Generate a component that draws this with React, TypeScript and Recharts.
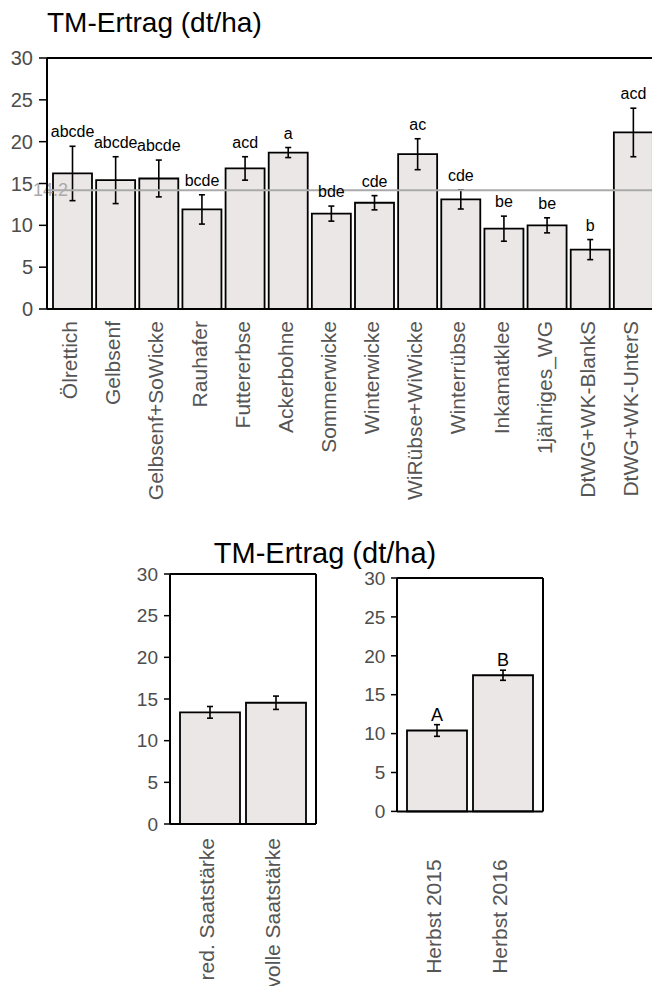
import React from "react";
import {
  ComposedChart,
  Bar,
  Line,
  XAxis,
  YAxis,
  ErrorBar,
  ReferenceLine,
  LabelList,
} from "recharts";

// upper panel: catch crops
const crops = [
  "Ölrettich",
  "Gelbsenf",
  "Gelbsenf+SoWicke",
  "Rauhafer",
  "Futtererbse",
  "Ackerbohne",
  "Sommerwicke",
  "Winterwicke",
  "WiRübse+WiWicke",
  "Winterrübse",
  "Inkamatklee",
  "1jähriges_WG",
  "DtWG+WK-BlankS",
  "DtWG+WK-UnterS",
];
const cropYield = [16.2, 15.4, 15.6, 11.9, 16.8, 18.7, 11.4, 12.7, 18.5, 13.1, 9.6, 10.0, 7.1, 21.1];
const cropErr = [3.25, 2.8, 2.2, 1.75, 1.4, 0.6, 0.9, 0.85, 1.85, 1.15, 1.5, 0.9, 1.2, 2.9];
const cropLetters = ["abcde", "abcde", "abcde", "bcde", "acd", "a", "bde", "cde", "ac", "cde", "be", "be", "b", "acd"];
const meanYield = 14.2;

// lower panels
const seedRates = ["red. Saatstärke", "volle Saatstärke"];
const seedYield = [13.4, 14.55];
const seedErr = [0.7, 0.8];

const years = ["Herbst 2015", "Herbst 2016"];
const yearYield = [10.4, 17.5];
const yearErr = [0.75, 0.65];
const yearLetters = ["A", "B"];

const yTicks = [0, 5, 10, 15, 20, 25, 30];
const title = "TM-Ertrag (dt/ha)";

const cropData = crops.map((name, i) => ({
  name,
  value: cropYield[i],
  err: cropErr[i],
  top: cropYield[i] + cropErr[i],
  sig: cropLetters[i],
}));
const seedData = seedRates.map((name, i) => ({ name, value: seedYield[i], err: seedErr[i] }));
const yearData = years.map((name, i) => ({
  name,
  value: yearYield[i],
  err: yearErr[i],
  top: yearYield[i] + yearErr[i],
  sig: yearLetters[i],
}));

const FILL = "#ebe7e6";
const TICK_GREY = "#4d4d4d";
const axisLine = { stroke: "#000", strokeWidth: 2 };
const tickLine = { stroke: "#000", strokeWidth: 1.5 };

function RotTick(props: any) {
  const { x, y, payload, gap, shift } = props;
  return (
    <g transform={`translate(${x},${y})`}>
      <text
        transform="rotate(-90)"
        x={-gap}
        y={shift}
        textAnchor="end"
        fontSize={21}
        fill="#555"
      >
        {payload.value}
      </text>
    </g>
  );
}

function MeanLabel(props: any) {
  const vb = props.viewBox;
  return (
    <text x={vb.x - 14} y={vb.y} dy="0.35em" fontSize={18} fill="#aaa">
      {String(meanYield)}
    </text>
  );
}

function SmallChart({
  data,
  labelGap,
  tickMargin,
  height,
  plotHeight,
  withLetters,
}: {
  data: any[];
  labelGap: number;
  tickMargin: number;
  height: number;
  plotHeight: number;
  withLetters: boolean;
}) {
  return (
    <ComposedChart
      width={210}
      height={height}
      data={data}
      margin={{ top: 10, right: 0, left: 0, bottom: 0 }}
    >
      <XAxis
        dataKey="name"
        interval={0}
        height={height - 10 - plotHeight}
        tickSize={0}
        tickMargin={0}
        tickLine={false}
        axisLine={axisLine}
        padding={{ left: 7, right: 7 }}
        tick={(p: any) => <RotTick {...p} gap={labelGap} shift={4} />}
      />
      <YAxis
        width={60}
        domain={[0, 30]}
        ticks={yTicks}
        interval={0}
        tickSize={6}
        tickMargin={tickMargin}
        tick={{ fill: TICK_GREY, fontSize: 19 }}
        tickLine={tickLine}
        axisLine={axisLine}
      />
      <YAxis
        yAxisId="r"
        orientation="right"
        width={4}
        domain={[0, 30]}
        tick={false}
        tickLine={false}
        axisLine={axisLine}
      />
      <ReferenceLine y={30} stroke="#000" strokeWidth={2} />
      <Bar dataKey="value" fill={FILL} stroke="#000" strokeWidth={1.8} barSize={60} isAnimationActive={false}>
        <ErrorBar dataKey="err" width={3} stroke="#000" strokeWidth={1.6} />
      </Bar>
      {withLetters && (
        <Line
          dataKey="top"
          stroke="none"
          dot={false}
          activeDot={false}
          legendType="none"
          isAnimationActive={false}
        >
          <LabelList dataKey="sig" position="top" offset={4} fill="#000" fontSize={18} />
        </Line>
      )}
    </ComposedChart>
  );
}

export default function App() {
  return (
    <div
      style={{
        position: "absolute",
        left: 0,
        top: 0,
        width: 652,
        height: 986,
        overflow: "hidden",
        background: "#fff",
        fontFamily: "'Liberation Sans', Arial, sans-serif",
      }}
    >
      <svg width={652} height={986} style={{ position: "absolute", left: 0, top: 0 }}>
        <text x={47} y={32} fontSize={28} fill="#000">
          {title}
        </text>
        <text x={325} y={563} fontSize={29} fill="#000" textAnchor="middle">
          {title}
        </text>
      </svg>

      <div style={{ position: "absolute", left: 0, top: 0 }}>
        <ComposedChart
          width={659}
          height={560}
          data={cropData}
          margin={{ top: 58, right: 0, left: 0, bottom: 0 }}
        >
          <XAxis
            dataKey="name"
            interval={0}
            height={251}
            tickSize={0}
            tickMargin={0}
            tickLine={false}
            axisLine={axisLine}
            padding={{ left: 4, right: 4 }}
            tick={(p: any) => <RotTick {...p} gap={12} shift={4.5} />}
          />
          <YAxis
            width={47}
            domain={[0, 30]}
            ticks={yTicks}
            interval={0}
            tickSize={8}
            tickMargin={6}
            tick={{ fill: TICK_GREY, fontSize: 20 }}
            tickLine={tickLine}
            axisLine={axisLine}
          />
          <ReferenceLine y={30} stroke="#000" strokeWidth={2} />
          <Bar dataKey="value" fill={FILL} stroke="#000" strokeWidth={1.8} barSize={39} isAnimationActive={false}>
            <ErrorBar dataKey="err" width={3} stroke="#000" strokeWidth={1.6} />
          </Bar>
          <ReferenceLine
            y={meanYield}
            stroke="#aaa"
            strokeWidth={2}
            label={(p: any) => <MeanLabel {...p} />}
          />
          <Line
            dataKey="top"
            stroke="none"
            dot={false}
            activeDot={false}
            legendType="none"
            isAnimationActive={false}
          >
            <LabelList dataKey="sig" position="top" offset={9} fill="#000" fontSize={16} />
          </Line>
        </ComposedChart>
      </div>

      <div style={{ position: "absolute", left: 110, top: 564 }}>
        <SmallChart data={seedData} labelGap={14} tickMargin={6} height={422} plotHeight={250} withLetters={false} />
      </div>

      <div style={{ position: "absolute", left: 336.7, top: 568.3 }}>
        <SmallChart data={yearData} labelGap={48} tickMargin={5.7} height={418} plotHeight={233.4} withLetters={true} />
      </div>
    </div>
  );
}
